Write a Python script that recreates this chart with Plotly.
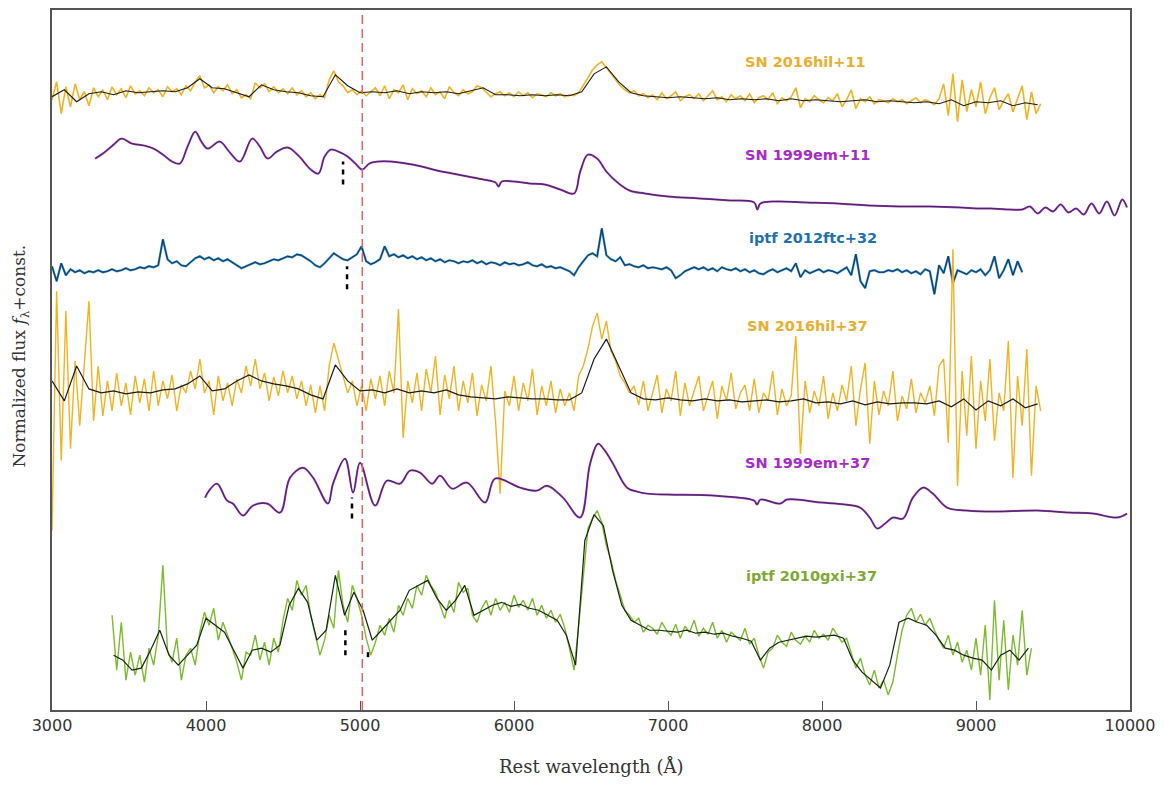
import numpy as np
import plotly.graph_objects as go

# ---------------- DATA (flux in arbitrary normalized units + constant offsets) ----------------
# SN 2016hil +11 (raw, 30 A sampling from 3000 A)
hil11_start, hil11_step = 3000, 30
hil11_raw = [
    612, 630, 598, 625, 605, 628, 612, 620, 606, 624,
    615, 622, 612, 625, 617, 623, 614, 626, 618, 621,
    616, 624, 619, 622, 615, 625, 620, 623, 617, 626,
    621, 630, 636, 624, 627, 619, 625, 621, 627, 618,
    622, 614, 617, 613, 629, 624, 628, 620, 625, 619,
    623, 618, 624, 617, 621, 615, 619, 613, 617, 614,
    632, 641, 630, 626, 619, 622, 617, 621, 616, 620,
    624, 616, 626, 613, 622, 619, 627, 612, 623, 618,
    621, 615, 624, 617, 620, 613, 625, 619, 616, 622,
    618, 620, 626, 624, 619, 615, 618, 620, 616, 619,
    615, 620, 616, 619, 614, 618, 617, 615, 619, 616,
    618, 615, 617, 616, 619, 626, 634, 642, 647, 650,
    644, 638, 632, 626, 622, 619, 621, 616, 618, 614,
    617, 612, 619, 613, 616, 620, 611, 615, 617, 613,
    618, 611, 616, 621, 612, 615, 610, 617, 613, 616,
    611, 618, 609, 614, 616, 612, 619, 608, 614, 611,
    615, 624, 604, 613, 610, 616, 612, 609, 614, 611,
    618, 605, 612, 622, 603, 613, 610, 615, 608, 612,
    611, 609, 613, 610, 612, 608, 611, 614, 609, 612,
    610, 607, 613, 628, 596, 638, 590, 632, 600, 622,
    605, 630, 598, 614, 624, 602, 611, 618, 600, 612,
    626, 592, 620, 598, 608,
]
# SN 2016hil +11 (smoothed, 80 A sampling from 3000 A)
hil11_sm_start, hil11_sm_step = 3000, 80
hil11_smooth = [
    615, 622, 610, 618, 620, 617, 621, 619, 620, 621,
    620, 624, 633, 624, 623, 619, 615, 627, 622, 620,
    619, 616, 615, 637, 626, 619, 620, 619, 621, 618,
    620, 619, 620, 618, 621, 624, 617, 617, 616, 617,
    616, 617, 616, 620, 638, 645, 630, 619, 616, 615,
    614, 615, 614, 613, 614, 612, 613, 612, 613, 611,
    613, 611, 612, 611, 610, 611, 612, 610, 611, 610,
    609, 610, 608, 612, 606, 610, 609, 611, 606, 609,
    607,
]

# SN 1999em +11
em11_wave = [3280, 3330, 3400, 3450, 3520, 3600, 3660, 3720, 3780, 3830,
             3880, 3930, 3970, 4010, 4090, 4150, 4220, 4300, 4350, 4400,
             4460, 4530, 4600, 4680, 4730, 4770, 4810, 4860, 4920, 4970,
             5015, 5060, 5120, 5200, 5300, 5400, 5500, 5600, 5700, 5800,
             5880, 5900, 5920, 6000, 6100, 6200, 6300, 6390, 6430, 6480,
             6540, 6600, 6680, 6750, 6850, 7000, 7200, 7400, 7560, 7580,
             7600, 7700, 7900, 8100, 8300, 8500, 8700, 8900, 9000, 9100,
             9200, 9300, 9350, 9400, 9450, 9500, 9550, 9600, 9650, 9700,
             9750, 9800, 9850, 9900, 9950, 9980]
em11_flux = [553, 558, 567, 573, 568, 566, 563, 557, 550, 548,
             565, 580, 570, 563, 570, 560, 550, 573, 565, 553,
             560, 564, 556, 542, 538, 555, 562, 560, 555, 548,
             542, 548, 550, 550, 548, 545, 541, 538, 535, 532,
             529, 525, 530, 530, 528, 527, 522, 518, 540, 557,
             553, 540, 528, 521, 518, 515, 513, 511, 509, 502,
             508, 510, 509, 508, 506, 505, 505, 504, 503, 503,
             502, 502, 505, 498, 504, 500, 507, 499, 503, 497,
             508, 498, 510, 496, 512, 504]

# iPTF 2012ftc +32 (raw, 30 A from 3000 A)
ftc_start, ftc_step = 3000, 30
ftc_raw = [
    445, 430, 448, 436, 442, 439, 441, 438, 440, 439,
    441, 439, 440, 442, 440, 441, 443, 441, 442, 444,
    443, 445, 444, 446, 472, 452, 448, 450, 446, 445,
    449, 453, 455, 452, 454, 451, 453, 450, 452, 449,
    446, 443, 445, 447, 449, 447, 448, 450, 452, 451,
    453, 455, 454, 457, 456, 453, 450, 446, 444, 448,
    453, 458, 455, 452, 451, 454, 457, 465, 450, 447,
    449, 452, 465, 455, 457, 454, 456, 453, 455, 452,
    454, 451, 453, 450, 452, 449, 451, 450, 448, 450,
    449, 451, 448, 450, 447, 449, 448, 446, 449, 447,
    448, 446, 447, 449, 446, 445, 447, 444, 445, 443,
    444, 442, 440, 436, 444, 450, 456, 458, 455, 483,
    456, 452, 450, 454, 446, 447, 445, 444, 446, 443,
    444, 443, 442, 444, 441, 433, 436, 440, 442, 444,
    442, 444, 441, 443, 440, 444, 442, 441, 443, 440,
    442, 439, 441, 438, 437, 440, 442, 439, 441, 443,
    440, 448, 434, 441, 438, 440, 442, 439, 441, 440,
    438, 441, 444, 436, 457, 430, 423, 440, 441, 439,
    439, 441, 440, 442, 439, 441, 438, 440, 437, 442,
    440, 417, 446, 438, 455, 428, 441, 439, 437, 441,
    439, 442, 436, 441, 455, 433, 441, 452, 436, 450,
    439,
]

# SN 2016hil +37 (raw, 30 A from 3000 A)
hil37_start, hil37_step = 3000, 30
hil37_raw = [
    180, 420, 250, 400, 262, 350, 285, 345, 410, 290,
    345, 295, 330, 300, 338, 305, 328, 296, 335, 308,
    332, 300, 340, 305, 330, 312, 336, 300, 326, 318,
    340, 322, 352, 318, 330, 296, 335, 310, 328, 305,
    332, 318, 345, 325, 352, 322, 338, 310, 334, 315,
    340, 318, 335, 312, 330, 305, 326, 298, 325, 300,
    345, 368, 352, 335, 318, 330, 305, 325, 300, 332,
    312, 335, 305, 340, 318, 402, 273, 330, 308, 338,
    300, 342, 318, 355, 296, 336, 312, 345, 300, 330,
    308, 338, 295, 326, 310, 345, 290, 217, 320, 305,
    335, 300, 328, 310, 342, 296, 325, 305, 330, 298,
    322, 305, 318, 300, 335, 345, 362, 385, 398, 372,
    390, 360, 350, 335, 328, 318, 325, 306, 330, 300,
    318, 336, 298, 322, 310, 340, 295, 328, 305, 320,
    335, 300, 315, 330, 292, 325, 310, 338, 302, 318,
    326, 300, 332, 298, 318, 310, 340, 296, 322, 305,
    315, 375, 257, 330, 298, 320, 305, 335, 292, 318,
    300, 326, 310, 345, 285, 322, 348, 267, 330, 296,
    320, 305, 340, 290, 315, 302, 332, 298, 318, 308,
    325, 295, 345, 352, 268, 462, 225, 340, 275, 355,
    262, 330, 290, 352, 270, 318, 300, 370, 233, 335,
    285, 362, 235, 325, 300,
]
hil37_sm_start, hil37_sm_step = 3000, 80
hil37_smooth = [
    330, 310, 345, 322, 318, 320, 317, 319, 318, 321,
    322, 327, 335, 320, 322, 330, 336, 330, 327, 325,
    322, 316, 312, 346, 330, 320, 321, 318, 322, 318,
    320, 318, 321, 316, 314, 313, 312, 314, 313, 312,
    312, 311, 311, 318, 352, 372, 345, 318, 312, 311,
    313, 311, 310, 312, 310, 311, 309, 310, 311, 309,
    310, 312, 308, 309, 307, 310, 306, 309, 307, 308,
    308, 307, 310, 304, 312, 301, 310, 305, 312, 303,
    307,
]

# SN 1999em +37
em37_wave = [3994, 4020, 4072, 4136, 4175, 4240, 4305, 4396, 4481, 4546,
             4630, 4695, 4792, 4825, 4903, 4955, 5000, 5098, 5175, 5260,
             5325, 5390, 5468, 5520, 5598, 5695, 5812, 5877, 6039, 6150,
             6214, 6318, 6429, 6494, 6546, 6590, 6643, 6734, 6800, 6864,
             7000, 7293, 7560, 7578, 7600, 7728, 7773, 8000, 8150, 8247,
             8310, 8358, 8410, 8461, 8526, 8590, 8656, 8720, 8812, 8940,
             9111, 9400, 9600, 9760, 9916, 9981]
em37_flux = [213, 220, 227, 210, 207, 195, 205, 207, 198, 233,
             243, 233, 207, 227, 252, 218, 248, 205, 230, 227,
             240, 238, 227, 235, 222, 228, 208, 232, 223, 220,
             225, 213, 193, 247, 267, 260, 247, 223, 219, 217,
             216, 215, 210, 206, 211, 207, 211, 208, 206, 203,
             193, 182, 187, 193, 192, 213, 223, 217, 203, 200,
             199, 200, 198, 197, 193, 197]

# iPTF 2010gxi +37 (raw, 30 A from 3390 A)
gxi_start, gxi_step = 3390, 30
gxi_raw = [
    95, 40, 88, 30, 58, 35, 55, 28, 62, 45,
    75, 145, 60, 48, 72, 30, 55, 62, 45, 78,
    98, 85, 102, 70, 88, 76, 62, 48, 30, 58,
    55, 75, 50, 68, 45, 72, 58, 90, 112, 100,
    130, 115, 125, 95, 75, 55, 70, 95, 82, 140,
    105, 88, 125, 112, 95, 72, 55, 68, 85, 75,
    92, 78, 105, 95, 112, 102, 125, 115, 135, 125,
    118, 105, 92, 110, 98, 128, 118, 122, 95, 88,
    102, 110, 95, 112, 100, 108, 98, 115, 103, 110,
    100, 112, 95, 105, 92, 100, 88, 96, 82, 62,
    40, 85, 135, 182, 192, 200, 188, 165, 150, 130,
    115, 100, 95, 88, 92, 78, 85, 82, 76, 88,
    80, 75, 86, 72, 84, 78, 90, 74, 82, 76,
    88, 72, 80, 68, 78, 74, 70, 82, 66, 72,
    55, 42, 58, 62, 75, 68, 64, 78, 70, 66,
    74, 68, 80, 72, 76, 70, 82, 75, 68, 72,
    58, 42, 52, 35, 25, 40, 22, 30, 15, 28,
    55, 80, 95, 102, 88, 96, 85, 92, 80, 70,
    62, 75, 55, 68, 48, 60, 40, 72, 35, 85,
    10, 110, 30, 90, 20, 75, 45, 100, 35, 62,
]
gxi_sm_start, gxi_sm_step = 3400, 60
gxi_smooth = [
    55, 50, 40, 42, 60, 80, 55, 45, 55, 65,
    92, 85, 78, 60, 42, 60, 62, 58, 65, 105,
    122, 108, 70, 80, 135, 95, 118, 100, 70, 80,
    90, 100, 120, 125, 130, 112, 100, 110, 125, 95,
    100, 105, 108, 104, 106, 102, 100, 95, 90, 75,
    45, 170, 196, 185, 140, 105, 90, 85, 80, 80,
    79, 78, 80, 77, 78, 76, 77, 74, 72, 69,
    50, 62, 68, 70, 72, 74, 73, 74, 75, 72,
    50, 38, 30, 22, 45, 88, 92, 88, 85, 75,
    62, 60, 55, 52, 50, 40, 55, 60, 50, 62,
]

# feature marks (short black dashed ticks) and reference line
mark_wave = [4890, 4916, 4948, 4905, 5052]
mark_lo = [527, 422, 192, 55, 53]
mark_hi = [550, 445, 213, 80, 63]
ref_line_wave = 5015

labels = ["SN 2016hil+11", "SN 1999em+11", "iptf 2012ftc+32",
          "SN 2016hil+37", "SN 1999em+37", "iptf 2010gxi+37"]
label_wave = [7890, 7909, 7942, 7903, 7909, 7935]
label_flux = [650, 557, 473, 385, 248, 134]
label_colors = ["#E8AE32", "#A42CC6", "#1F70AE", "#E8AE32", "#A42CC6", "#7DAA36"]

x_ticks = [3000, 4000, 5000, 6000, 7000, 8000, 9000, 10000]
x_tick_text = ["3000", "4000", "5000", "6000", "7000", "8000", "9000", "10000"]

# ---------------- FIGURE ----------------
GOLD = "#F0B323"
PURPLE = "#9038B4"
BLUE = "#2A84C6"
GREEN = "#7CBB2E"


def grid(start, step, vals):
    return start + step * np.arange(len(vals))


fig = go.Figure()


def add(x, y, color, width, shape="linear"):
    fig.add_trace(go.Scatter(x=x, y=y, mode="lines", line=dict(color=color, width=width, shape=shape),
                             hoverinfo="skip", showlegend=False))


add(grid(hil11_start, hil11_step, hil11_raw), hil11_raw, GOLD, 1.6)
add(grid(hil11_sm_start, hil11_sm_step, hil11_smooth), hil11_smooth, "#1a1a1a", 1.1)

add(em11_wave, em11_flux, PURPLE, 2.0, "spline")
add(em11_wave, em11_flux, "#3a1a48", 0.8, "spline")

ftc_wave = grid(ftc_start, ftc_step, ftc_raw)
add(ftc_wave, ftc_raw, BLUE, 2.2)
add(ftc_wave, ftc_raw, "#0E2C4C", 0.9)

add(grid(hil37_start, hil37_step, hil37_raw), hil37_raw, GOLD, 1.4)
add(grid(hil37_sm_start, hil37_sm_step, hil37_smooth), hil37_smooth, "#1a1a1a", 1.2)

add(em37_wave, em37_flux, PURPLE, 2.0, "spline")
add(em37_wave, em37_flux, "#3a1a48", 0.8, "spline")

add(grid(gxi_start, gxi_step, gxi_raw), gxi_raw, GREEN, 1.4)
add(grid(gxi_sm_start, gxi_sm_step, gxi_smooth), gxi_smooth, "#152410", 1.2)

for w, lo, hi in zip(mark_wave, mark_lo, mark_hi):
    fig.add_trace(go.Scatter(x=[w, w], y=[lo, hi], mode="lines",
                             line=dict(color="black", width=2.5, dash="5px,5px"),
                             hoverinfo="skip", showlegend=False))

fig.add_trace(go.Scatter(x=[ref_line_wave, ref_line_wave], y=[0, 702], mode="lines",
                         line=dict(color="#E06262", width=1.5, dash="9px,5px"),
                         hoverinfo="skip", showlegend=False))

for t, w, f, c in zip(labels, label_wave, label_flux, label_colors):
    fig.add_annotation(x=w, y=f, text="<b>" + t + "</b>", showarrow=False,
                       font=dict(family="DejaVu Sans", size=14.5, color=c),
                       xanchor="center", yanchor="middle")

fig.add_annotation(xref="paper", yref="paper", x=0.5, y=-0.081,
                   text="Rest wavelength (Å)", showarrow=False,
                   font=dict(family="DejaVu Serif", size=18, color="#333"),
                   xanchor="center", yanchor="middle")
fig.add_annotation(xref="paper", yref="paper", x=-0.029, y=0.506,
                   text="Normalized flux <i>f</i><sub>λ</sub>+const.", showarrow=False,
                   textangle=-90,
                   font=dict(family="DejaVu Serif", size=17, color="#333"),
                   xanchor="center", yanchor="middle")

# page body adds an 8px offset; plot area spans x 52-1130, y 8-710 on screen
fig.update_layout(
    width=1148, height=771,
    margin=dict(l=44, r=26, t=0, b=69),
    paper_bgcolor="white", plot_bgcolor="white",
    showlegend=False,
)
fig.update_xaxes(range=[3000, 10000], tickvals=x_ticks, ticktext=x_tick_text,
                 ticks="inside", ticklen=9,
                 tickcolor="#555", showline=True, linecolor="#555", linewidth=1.5,
                 mirror=True, showgrid=False, zeroline=False,
                 tickfont=dict(family="DejaVu Sans", size=16, color="#333"))
fig.update_yaxes(range=[0, 702], showticklabels=False, ticks="", showline=True,
                 linecolor="#555", linewidth=1.5, mirror=True, showgrid=False, zeroline=False)

fig.write_html("out.html")
